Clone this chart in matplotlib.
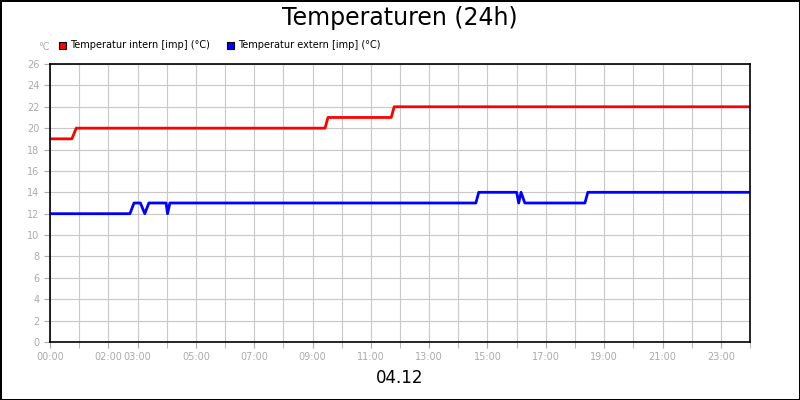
import matplotlib
matplotlib.use("Agg")
import matplotlib.pyplot as plt

intern_t = [0, 0.75, 0.9, 9.43, 9.53, 11.7, 11.8, 24]
intern_v = [19, 19, 20, 20, 21, 21, 22, 22]
extern_t = [0, 2.74, 2.88, 3.1, 3.25, 3.39, 3.98, 4.03, 4.11, 14.6, 14.7, 16.0, 16.07, 16.15, 16.28, 18.34, 18.44, 24]
extern_v = [12, 12, 13, 13, 12, 13, 13, 12, 13, 13, 14, 14, 13, 14, 13, 13, 14, 14]
xtick_pos = [0, 2, 3, 5, 7, 9, 11, 13, 15, 17, 19, 21, 23]
xtick_lab = ["00:00", "02:00", "03:00", "05:00", "07:00", "09:00", "11:00", "13:00", "15:00", "17:00", "19:00", "21:00", "23:00"]

fig = plt.figure(figsize=(8, 4), dpi=100)
fig.patch.set_edgecolor("black"); fig.patch.set_linewidth(2)
ax = fig.add_axes([50/800, 1-342/400, 700/800, 278/400])
ax.plot(intern_t, intern_v, color="#ff0000", lw=2)
ax.plot(extern_t, extern_v, color="#0000ff", lw=2)
ax.set_xlim(0, 24); ax.set_ylim(0, 26)
ax.set_xticks(range(25), minor=True)
ax.set_xticks(xtick_pos, xtick_lab)
ax.set_yticks(range(0, 27, 2))
ax.grid(True, which="both", axis="x", color="#c8c8c8", lw=0.8)
ax.grid(True, axis="y", color="#c8c8c8", lw=0.8)
ax.tick_params(colors="#aaaaaa", labelsize=7, length=4)
ax.tick_params(which="minor", colors="#aaaaaa", length=4)
for s in ax.spines.values():
    s.set_color("black"); s.set_linewidth(1.2)
fig.text(0.5, 0.955, "Temperaturen (24h)", ha="center", va="center", fontsize=17)
fig.text(0.5, 0.055, "04.12", ha="center", va="center", fontsize=12)
fig.text(38/800, 1-47/400, "°C", ha="left", va="center", fontsize=7, color="#aaaaaa")
fig.patches.append(plt.Rectangle((59/800, 1-49/400), 7/800, 7/400, transform=fig.transFigure, fc="#ff0000", ec="black", lw=0.8))
fig.text(70/800, 1-45/400, "Temperatur intern [imp] (°C)", va="center", fontsize=7)
fig.patches.append(plt.Rectangle((227/800, 1-49/400), 7/800, 7/400, transform=fig.transFigure, fc="#0000ff", ec="black", lw=0.8))
fig.text(238/800, 1-45/400, "Temperatur extern [imp] (°C)", va="center", fontsize=7)
fig.savefig("out.png", dpi=100, edgecolor=fig.get_edgecolor())
